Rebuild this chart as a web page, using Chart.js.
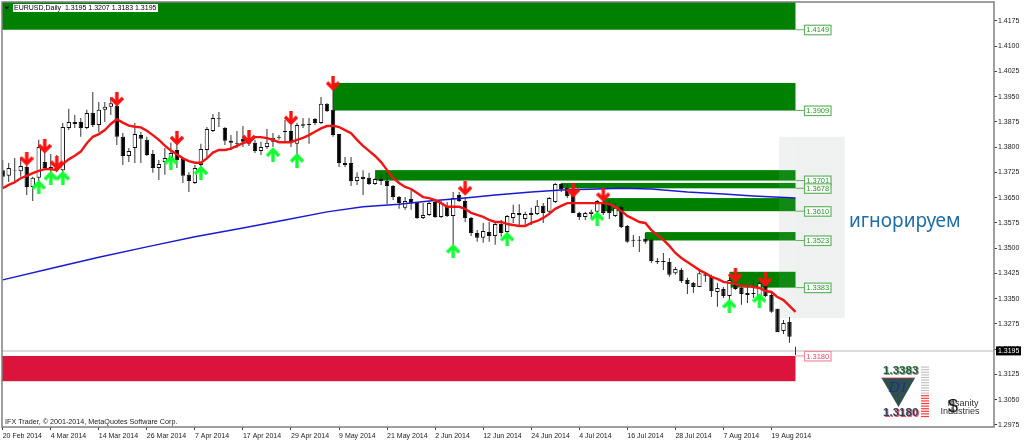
<!DOCTYPE html>
<html>
<head>
<meta charset="utf-8">
<title>EURUSD Daily</title>
<script src="https://cdn.jsdelivr.net/npm/chart.js@4/dist/chart.umd.min.js"></script>
<style>
  html, body { margin: 0; padding: 0; background: #fff; }
  canvas { display: block; }
</style>
</head>
<body>
<canvas id="priceChart" width="1024" height="441"></canvas>
<script>
const opens = [
  1.3732,1.3715,1.3732,1.3729,1.3741,1.3682,1.3709,1.3756,1.3732,1.3738,1.3732,1.3857,1.3869,1.3875,1.3857,1.3902,1.3866,1.3911,1.3920,1.3923,
  1.3831,1.3774,1.3798,1.3836,1.3822,1.3780,1.3738,1.3756,1.3768,1.3792,1.3765,1.3718,1.3694,1.3747,1.3792,1.3848,1.3886,1.3857,1.3819,1.3813,
  1.3825,1.3816,1.3813,1.3789,1.3801,1.3816,1.3831,1.3848,1.3848,1.3810,1.3868,1.3869,1.3884,1.3872,1.3929,1.3911,1.3839,1.3747,1.3753,1.3700,
  1.3712,1.3709,1.3691,1.3706,1.3700,1.3685,1.3652,1.3620,1.3646,1.3634,1.3590,1.3599,1.3637,1.3593,1.3626,1.3596,1.3658,1.3640,1.3590,1.3545,
  1.3531,1.3548,1.3536,1.3572,1.3548,1.3590,1.3605,1.3587,1.3599,1.3602,1.3626,1.3608,1.3637,1.3691,1.3679,1.3676,1.3605,1.3593,1.3602,1.3608,
  1.3637,1.3629,1.3596,1.3623,1.3566,1.3525,1.3525,1.3528,1.3525,1.3462,1.3462,1.3459,1.3426,1.3435,1.3406,1.3397,1.3385,1.3423,1.3418,1.3370,
  1.3379,1.3358,1.3391,1.3382,1.3367,1.3367,1.3358,1.3388,1.3361,1.3320,1.3254,1.3281,1.3195
];
const highs = [
  1.3762,1.3753,1.3768,1.3771,1.3747,1.3712,1.3822,1.3822,1.3780,1.3777,1.3872,1.3914,1.3896,1.3887,1.3911,1.3964,1.3934,1.3934,1.3949,1.3931,
  1.3842,1.3798,1.3872,1.3845,1.3831,1.3792,1.3762,1.3798,1.3813,1.3831,1.3771,1.3726,1.3747,1.3810,1.3860,1.3899,1.3905,1.3860,1.3836,1.3848,
  1.3863,1.3836,1.3822,1.3816,1.3854,1.3842,1.3836,1.3881,1.3866,1.3872,1.3887,1.3887,1.3887,1.3949,1.3931,1.3991,1.3839,1.3771,1.3771,1.3726,
  1.3732,1.3724,1.3709,1.3718,1.3724,1.3688,1.3655,1.3652,1.3673,1.3637,1.3634,1.3637,1.3643,1.3640,1.3637,1.3667,1.3667,1.3652,1.3593,1.3554,
  1.3575,1.3578,1.3578,1.3584,1.3599,1.3629,1.3631,1.3608,1.3620,1.3643,1.3634,1.3652,1.3694,1.3694,1.3694,1.3694,1.3608,1.3608,1.3614,1.3643,
  1.3649,1.3643,1.3634,1.3629,1.3569,1.3539,1.3536,1.3545,1.3528,1.3471,1.3486,1.3471,1.3444,1.3441,1.3412,1.3400,1.3435,1.3429,1.3421,1.3397,
  1.3385,1.3415,1.3400,1.3385,1.3391,1.3406,1.3406,1.3397,1.3367,1.3320,1.3287,1.3296,1.3207
];
const lows = [
  1.3682,1.3697,1.3697,1.3712,1.3658,1.3640,1.3697,1.3732,1.3726,1.3726,1.3726,1.3851,1.3857,1.3831,1.3854,1.3860,1.3845,1.3875,1.3896,1.3807,
  1.3747,1.3756,1.3753,1.3753,1.3774,1.3724,1.3703,1.3718,1.3753,1.3738,1.3694,1.3667,1.3691,1.3703,1.3771,1.3845,1.3860,1.3807,1.3792,1.3798,
  1.3801,1.3804,1.3783,1.3777,1.3795,1.3801,1.3822,1.3816,1.3801,1.3777,1.3857,1.3810,1.3866,1.3869,1.3905,1.3831,1.3741,1.3741,1.3685,1.3688,
  1.3658,1.3688,1.3688,1.3688,1.3631,1.3643,1.3617,1.3614,1.3614,1.3587,1.3587,1.3596,1.3590,1.3590,1.3593,1.3510,1.3637,1.3578,1.3536,1.3519,
  1.3516,1.3519,1.3510,1.3534,1.3534,1.3575,1.3569,1.3569,1.3569,1.3599,1.3575,1.3605,1.3634,1.3667,1.3649,1.3605,1.3584,1.3584,1.3590,1.3593,
  1.3599,1.3587,1.3593,1.3560,1.3516,1.3504,1.3489,1.3513,1.3456,1.3453,1.3435,1.3415,1.3421,1.3397,1.3364,1.3367,1.3385,1.3400,1.3355,1.3326,
  1.3352,1.3340,1.3376,1.3332,1.3337,1.3352,1.3355,1.3355,1.3308,1.3251,1.3245,1.3219,1.3183
];
const closes = [
  1.3712,1.3738,1.3730,1.3744,1.3682,1.3709,1.3801,1.3738,1.3741,1.3732,1.3860,1.3875,1.3875,1.3857,1.3902,1.3866,1.3911,1.3920,1.3931,1.3831,
  1.3774,1.3789,1.3839,1.3825,1.3777,1.3738,1.3750,1.3768,1.3783,1.3762,1.3715,1.3700,1.3738,1.3795,1.3854,1.3887,1.3884,1.3819,1.3813,1.3810,
  1.3816,1.3810,1.3789,1.3801,1.3813,1.3828,1.3828,1.3845,1.3816,1.3866,1.3864,1.3866,1.3872,1.3929,1.3908,1.3836,1.3753,1.3753,1.3700,1.3712,
  1.3706,1.3691,1.3706,1.3700,1.3685,1.3652,1.3634,1.3640,1.3634,1.3590,1.3599,1.3634,1.3593,1.3634,1.3596,1.3649,1.3640,1.3590,1.3545,1.3531,
  1.3551,1.3536,1.3572,1.3545,1.3596,1.3605,1.3599,1.3602,1.3605,1.3626,1.3605,1.3649,1.3691,1.3676,1.3655,1.3605,1.3593,1.3605,1.3608,1.3640,
  1.3605,1.3605,1.3620,1.3563,1.3519,1.3522,1.3522,1.3519,1.3462,1.3459,1.3459,1.3421,1.3438,1.3403,1.3394,1.3385,1.3426,1.3418,1.3373,1.3382,
  1.3358,1.3406,1.3379,1.3364,1.3361,1.3364,1.3397,1.3358,1.3311,1.3251,1.3278,1.3237,1.3195
];
const redMa = [
  1.3678,1.3688,1.3696,1.3708,1.3715,1.3723,1.3730,1.3735,1.3735,1.3732,1.3750,1.3764,1.3775,1.3787,1.3812,1.3831,1.3839,1.3851,1.3869,1.3883,
  1.3873,1.3864,1.3861,1.3859,1.3849,1.3836,1.3822,1.3805,1.3790,1.3779,1.3767,1.3759,1.3754,1.3754,1.3767,1.3784,1.3792,1.3792,1.3796,1.3804,
  1.3812,1.3817,1.3830,1.3830,1.3827,1.3822,1.3815,1.3815,1.3815,1.3822,1.3828,1.3836,1.3846,1.3856,1.3863,1.3864,1.3860,1.3851,1.3842,1.3822,
  1.3804,1.3789,1.3774,1.3756,1.3732,1.3709,1.3694,1.3682,1.3676,1.3664,1.3652,1.3649,1.3643,1.3634,1.3623,1.3623,1.3623,1.3617,1.3605,1.3599,
  1.3593,1.3584,1.3578,1.3578,1.3572,1.3569,1.3566,1.3566,1.3575,1.3581,1.3590,1.3602,1.3617,1.3626,1.3634,1.3634,1.3634,1.3634,1.3634,1.3634,
  1.3634,1.3631,1.3623,1.3611,1.3596,1.3587,1.3578,1.3575,1.3554,1.3539,1.3525,1.3507,1.3486,1.3471,1.3459,1.3447,1.3435,1.3426,1.3415,1.3409,
  1.3400,1.3397,1.3394,1.3388,1.3388,1.3385,1.3382,1.3373,1.3370,1.3355,1.3346,1.3329,1.3311
];
const blueIndex = [0,8,16,24,32,40,47,54,60,66,71,77,82,88,93,99,103,108,114,120,125,132];
const blueMa = [1.3406,1.3440,1.3473,1.3504,1.3534,1.3560,1.3584,1.3608,1.3623,1.3631,1.3640,1.3649,1.3658,1.3667,1.3673,1.3676,1.3678,1.3676,1.3667,1.3661,1.3655,1.3649];

const sellIndex = [4,7,9,19,29,41,48,55,77,95,100,122,127];
const sellPrice = [1.3765,1.3802,1.3753,1.3942,1.3826,1.3829,1.3886,1.3988,1.3677,1.3671,1.3658,1.3419,1.3406];
const buyIndex = [6,8,10,28,33,45,49,75,84,99,121,126];
const buyPrice = [1.3682,1.3709,1.3709,1.3756,1.3725,1.3779,1.3762,1.3492,1.3528,1.3589,1.3329,1.3346];

const zoneStart = [-1,55,62,93,100,107,121];
const zoneTop = [1.4240,1.3991,1.3732,1.3694,1.3649,1.3548,1.3430];
const zoneBottom = [1.4149,1.3909,1.3701,1.3678,1.3610,1.3523,1.3383];
const redZoneTop = 1.3180;
const redZoneBottom = 1.3105;
const zoneEnd = 132;

const dateTicks = [0,8,16,24,32,40,48,56,64,72,80,88,96,104,112,120,128];
const dateLabels = ['20 Feb 2014','4 Mar 2014','14 Mar 2014','26 Mar 2014','7 Apr 2014','17 Apr 2014','29 Apr 2014','9 May 2014','21 May 2014','2 Jun 2014','12 Jun 2014','24 Jun 2014','4 Jul 2014','16 Jul 2014','28 Jul 2014','7 Aug 2014','19 Aug 2014'];
const priceTicks = [1.4175,1.4100,1.4025,1.3950,1.3875,1.3800,1.3725,1.3650,1.3575,1.3500,1.3425,1.3350,1.3275,1.3200,1.3125,1.3050,1.2975];
const currentPrice = 1.3195;

const ignoreBox = { fromIndex: 129.25, toIndex: 140.2, top: 1.3831, bottom: 1.3293 };

const FONT = '"Liberation Sans", Arial, sans-serif';

function arrowImage(color, pointsDown) {
    const c = document.createElement('canvas');
    c.width = 14;
    c.height = 15;
    const g = c.getContext('2d');
    if (!pointsDown) {
        g.translate(0, 15);
        g.scale(1, -1);
    }
    g.strokeStyle = color;
    g.lineWidth = 3.4;
    g.beginPath();
    g.moveTo(7, 0);
    g.lineTo(7, 12);
    g.stroke();
    g.lineJoin = 'miter';
    g.beginPath();
    g.moveTo(1, 6);
    g.lineTo(7, 12);
    g.lineTo(13, 6);
    g.stroke();
    return c;
}

function zoneLabel(ctx, x, y, text, color, border) {
    ctx.strokeStyle = border;
    ctx.lineWidth = 1;
    ctx.beginPath();
    ctx.moveTo(x, y);
    ctx.lineTo(x + 9, y);
    ctx.stroke();
    ctx.fillStyle = 'rgba(255,255,255,0.85)';
    ctx.fillRect(x + 9, y - 4.5, 26.5, 9.5);
    ctx.lineWidth = 1.2;
    ctx.strokeRect(x + 9, y - 4.5, 26.5, 9.5);
    ctx.fillStyle = color;
    ctx.font = '7.5px ' + FONT;
    ctx.textAlign = 'center';
    ctx.textBaseline = 'middle';
    ctx.fillText(text, x + 22.2, y + 0.5);
}

const zonesPlugin = {
    id: 'zones',
    beforeDatasetsDraw(chart) {
        const { ctx, scales: { x, y }, chartArea } = chart;
        ctx.save();
        ctx.beginPath();
        ctx.rect(chartArea.left, chartArea.top, chartArea.width, chartArea.height);
        ctx.clip();

        const bx = x.getPixelForValue(ignoreBox.fromIndex);
        const bw = x.getPixelForValue(ignoreBox.toIndex) - bx;
        const by = y.getPixelForValue(ignoreBox.top);
        const bh = y.getPixelForValue(ignoreBox.bottom) - by;
        ctx.fillStyle = '#eff1f1';
        ctx.fillRect(bx, by, bw, bh);

        const right = x.getPixelForValue(zoneEnd);
        ctx.fillStyle = '#008000';
        zoneStart.forEach(function (start, i) {
            const left = x.getPixelForValue(start);
            const top = y.getPixelForValue(zoneTop[i]);
            ctx.fillRect(left, top, right - left, y.getPixelForValue(zoneBottom[i]) - top);
        });
        ctx.fillStyle = '#dc143c';
        const redTop = y.getPixelForValue(redZoneTop);
        ctx.fillRect(chartArea.left, redTop, right - chartArea.left, y.getPixelForValue(redZoneBottom) - redTop);

        ctx.fillStyle = 'rgba(255,255,255,0.07)';
        ctx.fillRect(bx, by, right - bx, bh);

        ctx.strokeStyle = '#dcdcdc';
        ctx.lineWidth = 2;
        const py = y.getPixelForValue(currentPrice);
        ctx.beginPath();
        ctx.moveTo(chartArea.left, py);
        ctx.lineTo(chartArea.right, py);
        ctx.stroke();
        ctx.restore();
    },
    afterDraw(chart) {
        const { ctx, scales: { x, y }, chartArea } = chart;
        ctx.save();
        const right = x.getPixelForValue(zoneEnd);
        zoneBottom.forEach(function (price) {
            zoneLabel(ctx, right, y.getPixelForValue(price), price.toFixed(4), '#2f942f', '#62b562');
        });
        zoneLabel(ctx, right, y.getPixelForValue(redZoneTop), redZoneTop.toFixed(4), '#e8456a', '#f08ca3');

        // frame
        ctx.strokeStyle = '#808080';
        ctx.lineWidth = 1.5;
        ctx.strokeRect(chartArea.left, chartArea.top, chartArea.width, chartArea.height);

        // current price tag
        const py = y.getPixelForValue(currentPrice);
        ctx.fillStyle = '#000';
        ctx.fillRect(chartArea.right + 2, py - 4.5, 25, 9);
        ctx.fillStyle = '#fff';
        ctx.font = '7px ' + FONT;
        ctx.textAlign = 'left';
        ctx.textBaseline = 'middle';
        ctx.fillText(currentPrice.toFixed(4), chartArea.right + 4, py + 0.5);

        // title
        ctx.fillStyle = '#fff';
        ctx.fillRect(13, 4, 145, 8);
        ctx.fillStyle = '#000';
        ctx.font = '7px ' + FONT;
        ctx.fillText('EURUSD,Daily  1.3195 1.3207 1.3183 1.3195', 14, 8.2);
        ctx.beginPath();
        ctx.moveTo(4.5, 6.8);
        ctx.lineTo(9, 6.8);
        ctx.lineTo(6.7, 9.2);
        ctx.closePath();
        ctx.fill();

        ctx.fillStyle = '#222';
        ctx.font = '7.2px ' + FONT;
        ctx.fillText('IFX Trader, \u00a9 2001-2014, MetaQuotes Software Corp.', 5, 422);

        // caption
        ctx.fillStyle = '#1f6ea8';
        ctx.font = '19px "Noto Sans", sans-serif';
        ctx.fillText('\u0438\u0433\u043d\u043e\u0440\u0438\u0440\u0443\u0435\u043c', 849, 222);

        drawWidget(ctx);
        ctx.restore();
    }
};

function drawWidget(ctx) {
    ctx.textAlign = 'left';
    ctx.textBaseline = 'middle';
    ctx.font = 'bold 11.6px ' + FONT;
    ctx.fillStyle = '#9a9a9a';
    ctx.fillText('1.3383', 884, 371.5);
    ctx.fillStyle = '#1e6336';
    ctx.fillText('1.3383', 883, 370.5);
    ctx.fillStyle = '#e8506a';
    ctx.fillText('1.3180', 884, 413.5);
    ctx.fillStyle = '#2f4456';
    ctx.fillText('1.3180', 883, 412.5);

    ctx.fillStyle = '#2f4f4f';
    ctx.beginPath();
    ctx.moveTo(881.5, 378);
    ctx.lineTo(915, 378);
    ctx.lineTo(898.5, 407);
    ctx.closePath();
    ctx.fill();
    ctx.strokeStyle = '#c8323c';
    ctx.lineWidth = 0.8;
    ctx.beginPath();
    ctx.moveTo(881.5, 378);
    ctx.lineTo(915, 378);
    ctx.stroke();
    ctx.fillStyle = '#1c2f8c';
    ctx.font = 'italic 15px "Liberation Serif", serif';
    ctx.textAlign = 'center';
    ctx.fillText('D1', 898, 388);

    for (let i = 0; i < 20; i++) {
        const yy = 366.5 + i * 2.6;
        ctx.fillStyle = yy < 395 ? '#c4c4c4' : '#ff3a3a';
        ctx.fillRect(921, yy, 8, 1.2);
    }

    ctx.fillStyle = '#111';
    ctx.font = '18px "Liberation Sans", sans-serif';
    ctx.fillText('$', 953, 407);
    ctx.fillStyle = '#333';
    ctx.font = '9px ' + FONT;
    ctx.fillText('Insanity', 963, 404);
    ctx.fillText('Industries', 960, 412);
}

function clearScalePadding(scale) {
    scale.paddingLeft = 0;
    scale.paddingRight = 0;
    scale.paddingTop = 0;
    scale.paddingBottom = 0;
}

document.addEventListener('DOMContentLoaded', function () {
    const indexes = opens.map(function (_, i) { return i; });

    new Chart(document.getElementById('priceChart'), {
        type: 'bar',
        data: {
            datasets: [
                {
                    type: 'scatter',
                    order: 0,
                    data: sellIndex.map(function (v, i) { return { x: v, y: sellPrice[i] }; }),
                    pointStyle: arrowImage('#ff1010', true),
                },
                {
                    type: 'scatter',
                    order: 0,
                    data: buyIndex.map(function (v, i) { return { x: v, y: buyPrice[i] }; }),
                    pointStyle: arrowImage('#10ff30', false),
                },
                {
                    type: 'line',
                    order: 1,
                    data: indexes.map(function (i) { return { x: i, y: redMa[i] }; }),
                    borderColor: '#f01414',
                    borderWidth: 2.4,
                    pointRadius: 0,
                    tension: 0,
                },
                {
                    type: 'line',
                    order: 2,
                    data: blueIndex.map(function (v, i) { return { x: v, y: blueMa[i] }; }),
                    borderColor: '#1a1ad2',
                    borderWidth: 1.5,
                    pointRadius: 0,
                    tension: 0,
                },
                {
                    order: 3,
                    data: indexes.map(function (i) { return { x: i, y: [opens[i], closes[i]] }; }),
                    backgroundColor: indexes.map(function (i) { return closes[i] > opens[i] ? '#ffffff' : '#000000'; }),
                    borderColor: '#111111',
                    borderWidth: 1,
                    borderSkipped: false,
                    inflateAmount: 0,
                    barThickness: 4.4,
                    grouped: false,
                },
                {
                    order: 4,
                    data: indexes.map(function (i) { return { x: i, y: [lows[i], highs[i]] }; }),
                    backgroundColor: '#333333',
                    borderWidth: 0,
                    inflateAmount: 0,
                    barThickness: 1,
                    grouped: false,
                },
            ],
        },
        options: {
            responsive: false,
            animation: false,
            devicePixelRatio: 1,
            events: [],
            layout: { autoPadding: false, padding: { left: 2, top: 2, right: 0, bottom: 0 } },
            plugins: {
                legend: { display: false },
                tooltip: { enabled: false },
            },
            scales: {
                x: {
                    type: 'linear',
                    offset: false,
                    min: -0.117,
                    max: 165.05,
                    afterBuildTicks: function (scale) {
                        scale.ticks = dateTicks.map(function (v) { return { value: v }; });
                    },
                    afterFit: function (scale) {
                        scale.height = 14;
                        clearScalePadding(scale);
                    },
                    grid: { drawOnChartArea: false, tickLength: 3, tickColor: '#444', offset: false },
                    border: { display: false },
                    ticks: {
                        autoSkip: false,
                        maxRotation: 0,
                        minRotation: 0,
                        align: 'start',
                        padding: 2,
                        color: '#222',
                        font: { family: 'Liberation Sans', size: 7 },
                        callback: function (value) { return dateLabels[dateTicks.indexOf(value)]; },
                    },
                },
                y: {
                    position: 'right',
                    min: 1.29690,
                    max: 1.42314,
                    afterBuildTicks: function (scale) {
                        scale.ticks = priceTicks.map(function (v) { return { value: v }; });
                    },
                    afterFit: function (scale) {
                        scale.width = 30;
                        clearScalePadding(scale);
                    },
                    grid: { drawOnChartArea: false, tickLength: 3, tickColor: '#444' },
                    border: { display: false },
                    ticks: {
                        autoSkip: false,
                        padding: 1,
                        color: '#222',
                        font: { family: 'Liberation Sans', size: 7 },
                        callback: function (value) { return value.toFixed(4); },
                    },
                },
            },
        },
        plugins: [zonesPlugin],
    });
});
</script>
</body>
</html>
